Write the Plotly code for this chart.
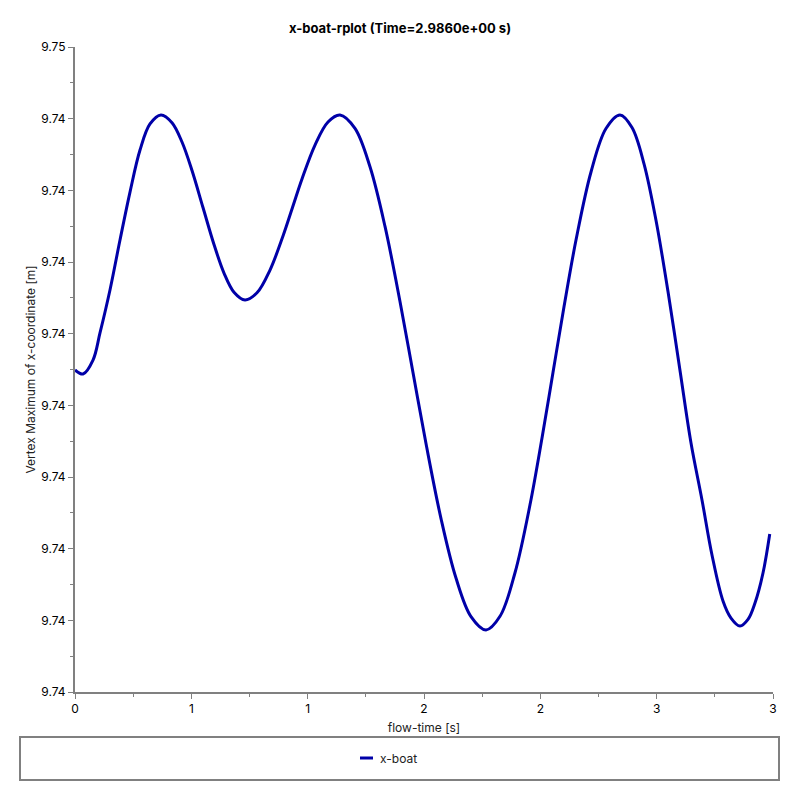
import plotly.graph_objects as go

# flow-time [s]
time = [0.0000, 0.0344, 0.0774, 0.1074, 0.1504, 0.1934, 0.2364, 0.2794, 0.3223, 0.3696, 0.4169,
        0.4599, 0.5029, 0.5501, 0.5974, 0.6404, 0.6834, 0.7306, 0.7822, 0.8381, 0.8940,
        0.9348, 0.9756, 1.0315, 1.0874, 1.1390, 1.2034, 1.2679, 1.3324, 1.3968, 1.4527,
        1.5086, 1.5731, 1.6375, 1.7020, 1.7665, 1.8266, 1.8911, 1.9556, 2.0072, 2.0544,
        2.1017, 2.1533, 2.2178, 2.2822, 2.3424, 2.3940, 2.4456, 2.4971, 2.5487, 2.6003,
        2.6476, 2.6948, 2.7378, 2.7851, 2.8195, 2.8581, 2.8925, 2.9226, 2.9570, 2.9860]
# Vertex Maximum of x-coordinate [m]
x_boat = [9.742247, 9.742219, 9.742316, 9.742505, 9.742805, 9.743153, 9.743488, 9.743781, 9.743963, 9.744026, 9.743972,
          9.743837, 9.743638, 9.743380, 9.743122, 9.742923, 9.742789, 9.742735, 9.742785, 9.742944, 9.743181,
          9.743380, 9.743579, 9.743816, 9.743977, 9.744026, 9.743932, 9.743664, 9.743248, 9.742725, 9.742229,
          9.741733, 9.741210, 9.740795, 9.740526, 9.740433, 9.740528, 9.740832, 9.741306, 9.741772, 9.742229,
          9.742687, 9.743153, 9.743628, 9.743931, 9.744026, 9.743938, 9.743685, 9.743291, 9.742794, 9.742243,
          9.741737, 9.741340, 9.740956, 9.740635, 9.740516, 9.740460, 9.740506, 9.740621, 9.740830, 9.741102]

x_tickvals = [0, 0.5, 1.0, 1.5, 2.0, 2.5, 3.0]
x_ticktext = ["0", "1", "1", "2", "2", "3", "3"]
x_minor = [0.25, 0.75, 1.25, 1.75, 2.25, 2.75]
y_tickvals = [9.7400 + 0.0005 * k for k in range(10)]
y_ticktext = ["9.74"] * 9 + ["9.75"]
y_minor = [9.74025 + 0.0005 * k for k in range(9)]

FONT = "Inter, Roboto, DejaVu Sans, sans-serif"
LINE_COLOR = "#0000a8"
AXIS_COLOR = "#808080"

# the page body adds an 8px offset, so figure coordinates are shifted
OFF = 8
L, R, T, B = 75 - OFF, 800 - (773 - OFF), 47 - OFF, 800 - (692 - OFF)

fig = go.Figure()
fig.add_trace(go.Scatter(
    x=time, y=x_boat, mode="lines", name="x-boat",
    line=dict(color=LINE_COLOR, width=3, shape="spline", smoothing=1.0),
    showlegend=False,
))

fig.update_layout(
    width=800, height=800,
    margin=dict(l=L, r=R, t=T, b=B, autoexpand=False),
    paper_bgcolor="white", plot_bgcolor="white",
    font=dict(family=FONT, size=12, color="#222222"),
    title=dict(text="<b>x-boat-rplot (Time=2.9860e+00 s)</b>", x=(400 - OFF) / 800, xanchor="center",
               y=1 - (28 - OFF) / 800, yanchor="middle", font=dict(size=13, color="black")),
)

fig.update_xaxes(
    range=[0, 3], showgrid=False, zeroline=False, automargin=False,
    showline=True, linecolor=AXIS_COLOR, linewidth=2,
    tickmode="array", tickvals=x_tickvals, ticktext=x_ticktext,
    ticks="outside", ticklen=5, tickcolor=AXIS_COLOR, tickwidth=1,
    tickfont=dict(size=12, color="black"),
    minor=dict(tickmode="array", tickvals=x_minor, ticks="outside", ticklen=3,
               tickcolor=AXIS_COLOR, tickwidth=1, showgrid=False),
    title=dict(text="flow-time [s]", standoff=8, font=dict(size=12, color="#222222")),
)
fig.update_yaxes(
    range=[9.7400, 9.7445], showgrid=False, zeroline=False, automargin=False,
    showline=True, linecolor=AXIS_COLOR, linewidth=2,
    tickmode="array", tickvals=y_tickvals, ticktext=y_ticktext,
    ticks="outside", ticklen=5, tickcolor=AXIS_COLOR, tickwidth=1,
    tickfont=dict(size=12, color="black"),
    minor=dict(tickmode="array", tickvals=y_minor, ticks="outside", ticklen=3,
               tickcolor=AXIS_COLOR, tickwidth=1, showgrid=False),
    title=dict(text="Vertex Maximum of x-coordinate [m]", standoff=3,
               font=dict(size=12, color="#222222")),
)

# legend box below the plot (positions given in screen pixels)
plot_w, plot_h = 698, 645
def px_x(px):
    return (px - 75) / plot_w
def px_y(py):
    return (692 - py) / plot_h

fig.add_shape(type="rect", xref="paper", yref="paper",
              x0=px_x(20), x1=px_x(779), y0=px_y(780), y1=px_y(737),
              line=dict(color=AXIS_COLOR, width=2), fillcolor="white")
fig.add_shape(type="line", xref="paper", yref="paper",
              x0=px_x(360), x1=px_x(373), y0=px_y(758), y1=px_y(758),
              line=dict(color=LINE_COLOR, width=3))
fig.add_annotation(text="x-boat", xref="paper", yref="paper",
                   x=px_x(378), y=px_y(758), xanchor="left", yanchor="middle",
                   showarrow=False, font=dict(size=12, color="#222222"))

fig.write_html("out.html")
